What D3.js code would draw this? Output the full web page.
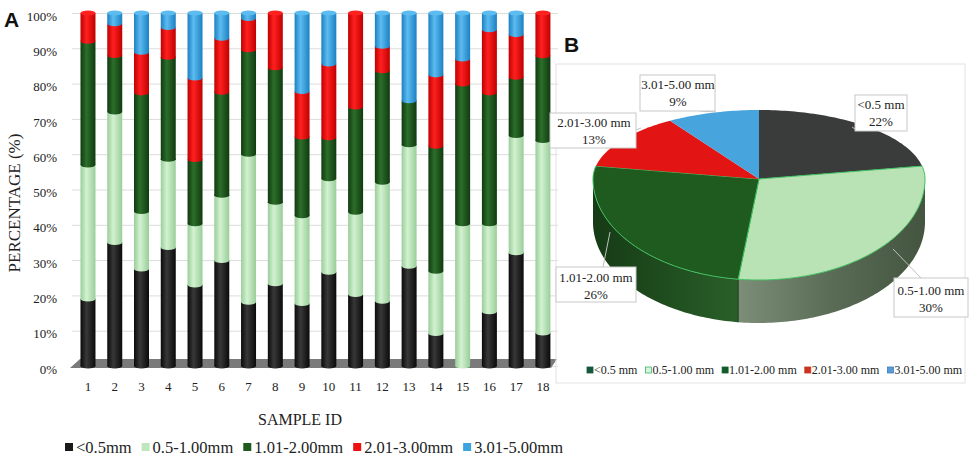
<!DOCTYPE html>
<html>
<head>
<meta charset="utf-8">
<script src="https://cdn.jsdelivr.net/npm/d3@7"></script>
<style>
  body { margin: 0; background: #fff; }
  svg { display: block; }
  text { font-family: "Liberation Serif", "DejaVu Serif", "Times New Roman", serif; fill: #222; }
  .panel-letter { font-family: "Liberation Sans", Arial, sans-serif; font-weight: bold; fill: #111; }
</style>
</head>
<body>
<svg id="chart" width="969" height="461" font-family="Liberation Serif, DejaVu Serif, serif"></svg>
<script>
// ---- data: panel A (percent per size class, sample 1..18) ----
const samples = ["1","2","3","4","5","6","7","8","9","10","11","12","13","14","15","16","17","18"];
const sizeKeys = ["<0.5mm", "0.5-1.00mm", "1.01-2.00mm", "2.01-3.00mm", "3.01-5.00mm"];
const under05   = [19, 35, 27.5, 33.6, 23, 29.9, 18.1, 23.3, 17.7, 26.6, 20.3, 18.4, 28.3, 9.2, 0, 15.4, 32.1, 9.4];
const from05    = [38, 37, 16.3, 25, 17.3, 18.5, 41.9, 23.1, 24.9, 26.5, 23.3, 33.7, 34.4, 17.7, 40.3, 24.9, 33.2, 54.5];
const from101   = [35, 16, 33.6, 28.9, 18.2, 29.2, 29.6, 38.1, 22.3, 11.6, 29.8, 31.6, 12.5, 35.4, 39.6, 37.1, 16.5, 24];
const from201   = [8, 9, 11.5, 8.4, 23.1, 15.3, 8.9, 15.5, 12.9, 20.9, 26.6, 6.9, 0, 20.2, 7.1, 17.9, 12.1, 12.1];
const from301   = [0, 3, 11.1, 4.1, 18.4, 7.1, 1.5, 0, 22.2, 14.4, 0, 9.4, 24.8, 17.5, 13, 4.7, 6.1, 0];
const yTicks = [0, 10, 20, 30, 40, 50, 60, 70, 80, 90, 100];

// ---- data: panel B (overall share) ----
const pieLabels = ["<0.5 mm", "0.5-1.00 mm", "1.01-2.00 mm", "2.01-3.00 mm", "3.01-5.00 mm"];
const pieValues = [22, 30, 26, 13, 9];

// ---- styles ----
const barColors = [
  { dark: "#0a0a0a", light: "#383838", key: "#1a1a1a" },
  { dark: "#9acd9a", light: "#d2f2d0", key: "#bfe6bd" },
  { dark: "#103a10", light: "#2c6e2a", key: "#1f5a1e" },
  { dark: "#c00000", light: "#ff2020", key: "#ee1111" },
  { dark: "#1c80c2", light: "#5cbcf0", key: "#3ba3e0" }
];
const pieTop  = ["#393c3a", "#b9e2b5", "#1f5a1e", "#e31414", "#48a4dc"];
const legendBColors = ["#15573c", "#d4f5dc", "#0e5c2a", "#c8341e", "#5b9bd5"];
const legendBStroke = ["#15573c", "#3cb371", "#0e5c2a", "#c8341e", "#3a7fc0"];
// label boxes for pie (centre x, first line y, box x, y, w, h)
const pieLabelBoxes = [
  { cx: 881, ty: 109, x: 855, y: 95,  w: 52, h: 36 },
  { cx: 931, ty: 295, x: 894, y: 278, w: 74, h: 39 },
  { cx: 596, ty: 282, x: 556, y: 267, w: 80, h: 35 },
  { cx: 594, ty: 127, x: 550, y: 113, w: 86, h: 35 },
  { cx: 678, ty: 89,  x: 640, y: 75,  w: 75, h: 36 }
];

const svg = d3.select("#chart");
const defs = svg.append("defs");

// =============== Panel A ===============
const plot = { left: 72, right: 558, top: 13, bottom: 366 };

const table = samples.map((s, i) => ({
  sample: s,
  [sizeKeys[0]]: under05[i],
  [sizeKeys[1]]: from05[i],
  [sizeKeys[2]]: from101[i],
  [sizeKeys[3]]: from201[i],
  [sizeKeys[4]]: from301[i]
}));
const series = d3.stack().keys(sizeKeys)(table);

const x = d3.scaleBand().domain(samples).range([74.6, 556.3]).paddingInner(0.44).paddingOuter(0.22);
const y = d3.scaleLinear().domain([0, 100]).range([plot.bottom, plot.top]);

// cylinder shading
barColors.forEach((c, i) => {
  const g = defs.append("linearGradient").attr("id", "bar" + i).attr("x1", 0).attr("x2", 1).attr("y1", 0).attr("y2", 0);
  g.append("stop").attr("offset", "0%").attr("stop-color", c.dark);
  g.append("stop").attr("offset", "40%").attr("stop-color", c.light);
  g.append("stop").attr("offset", "100%").attr("stop-color", c.dark);
});

// gridlines
const yAxis = d3.axisLeft(y).tickValues(yTicks).tickSize(-(plot.right - plot.left)).tickPadding(15)
  .tickFormat(d => d + "%");
svg.append("g")
  .attr("transform", `translate(${plot.left},0)`)
  .call(yAxis)
  .call(g => g.select(".domain").remove())
  .call(g => g.selectAll("line").attr("stroke", "#dcdcdc"))
  .call(g => g.selectAll("text").attr("font-size", 13).attr("dy", "0.55em")
    .attr("font-family", null).attr("fill", "#333"));

// floor
svg.append("path")
  .attr("d", d3.line()([[80, 359], [557, 359], [551, 368], [70, 368]]) + "Z")
  .attr("fill", "#7a7a7a");

const bw = x.bandwidth();
const layers = svg.append("g").selectAll("g")
  .data(series)
  .join("g")
  .attr("fill", (d, i) => `url(#bar${i})`);

layers.selectAll("rect")
  .data(d => d.filter(p => p[1] - p[0] > 0))
  .join("rect")
  .attr("x", d => x(d.data.sample))
  .attr("y", d => y(d[1]))
  .attr("width", bw)
  .attr("height", d => y(d[0]) - y(d[1]));

// curved lower edge of each segment
layers.selectAll("ellipse")
  .data(d => d.filter(p => p[1] - p[0] > 0))
  .join("ellipse")
  .attr("cx", d => x(d.data.sample) + bw / 2)
  .attr("cy", d => y(d[0]))
  .attr("rx", bw / 2)
  .attr("ry", 2.6);

// top caps
const topCaps = samples.map((s, i) => {
  let k = sizeKeys.length - 1;
  while (k > 0 && table[i][sizeKeys[k]] === 0) k--;
  return { sample: s, k };
});
svg.append("g").selectAll("ellipse")
  .data(topCaps)
  .join("ellipse")
  .attr("cx", d => x(d.sample) + bw / 2)
  .attr("cy", y(100))
  .attr("rx", bw / 2)
  .attr("ry", 2.6)
  .attr("fill", d => barColors[d.k].light);

// x axis labels
svg.append("g")
  .attr("transform", `translate(0,${plot.bottom})`)
  .call(d3.axisBottom(x).tickSize(0).tickPadding(16))
  .call(g => g.select(".domain").remove())
  .call(g => g.selectAll("text").attr("font-size", 13).attr("font-family", null).attr("fill", "#333"));

// axis titles
svg.append("text")
  .attr("transform", "translate(20,203) rotate(-90)")
  .attr("text-anchor", "middle")
  .attr("font-size", 17)
  .attr("fill", "#333")
  .text("PERCENTAGE (%)");

svg.append("text")
  .attr("x", 300).attr("y", 425)
  .attr("text-anchor", "middle")
  .attr("font-size", 16)
  .attr("fill", "#333")
  .text("SAMPLE ID");

// legend A
const legA = svg.append("g");
let lx = 65;
sizeKeys.forEach((k, i) => {
  legA.append("rect").attr("x", lx).attr("y", 443).attr("width", 8).attr("height", 8).attr("fill", barColors[i].key);
  const t = legA.append("text").attr("x", lx + 11).attr("y", 453).attr("font-size", 16.5).attr("fill", "#333").text(k);
  lx += 11 + t.node().getComputedTextLength() + 10;
});

svg.append("text").attr("class", "panel-letter").attr("x", 4).attr("y", 27).attr("font-size", 21).text("A");

// =============== Panel B ===============
svg.append("rect")
  .attr("x", 556).attr("y", 64).attr("width", 409).attr("height", 319)
  .attr("fill", "none").attr("stroke", "#e2e2e2");
svg.append("text").attr("class", "panel-letter").attr("x", 564).attr("y", 52).attr("font-size", 21).text("B");

const pc = { cx: 759, cy: 179, rx: 166, ryTop: 69, ryBot: 101, depth: 43 };
const piePt = (a, dy) => {
  const c = Math.cos(a);
  return [pc.cx + pc.rx * Math.sin(a), pc.cy - (c > 0 ? pc.ryTop : pc.ryBot) * c + dy];
};
const arcPts = (a0, a1, dy) => {
  const n = Math.max(2, Math.ceil((a1 - a0) / 0.02));
  return d3.range(n + 1).map(i => piePt(a0 + (a1 - a0) * i / n, dy));
};
const arcs = d3.pie().sort(null).value(d => d)(pieValues);

// side wall shading
const sideGrad = [
  null,
  ["#7c8e77", "#5a6c55", "#44553f"],
  ["#163b16", "#1f4d1f", "#2a5f29"],
  null, null
];
sideGrad.forEach((s, i) => {
  if (!s) return;
  const g = defs.append("linearGradient").attr("id", "side" + i).attr("x1", 0).attr("x2", 1);
  g.append("stop").attr("offset", "0%").attr("stop-color", s[0]);
  g.append("stop").attr("offset", "50%").attr("stop-color", s[1]);
  g.append("stop").attr("offset", "100%").attr("stop-color", s[2]);
});

const line = d3.line();
const pieG = svg.append("g");
arcs.forEach((a, i) => {
  const s = Math.max(a.startAngle, Math.PI / 2), e = Math.min(a.endAngle, 3 * Math.PI / 2);
  if (s >= e) return;
  const pts = arcPts(s, e, 0).concat(arcPts(s, e, pc.depth).reverse());
  pieG.append("path").attr("d", line(pts) + "Z")
    .attr("fill", sideGrad[i] ? `url(#side${i})` : pieTop[i]);
});
// boundary between side walls
pieG.append("path")
  .attr("d", line([piePt(arcs[1].endAngle, 0), piePt(arcs[1].endAngle, pc.depth)]))
  .attr("stroke", "#1c3d1c").attr("stroke-width", 1);

pieG.selectAll("path.slice")
  .data(arcs)
  .join("path")
  .attr("class", "slice")
  .attr("d", a => line([[pc.cx, pc.cy]].concat(arcPts(a.startAngle, a.endAngle, 0))) + "Z")
  .attr("fill", (a, i) => pieTop[i])
  .attr("stroke", (a, i) => (i === 1 || i === 2) ? "#3fbf5f" : "none")
  .attr("stroke-width", 1);

// leader lines
const leaders = [[[858, 131], [852, 127]], [[893, 249], [922, 279]], [[610, 232], [603, 267]], [[636, 130], [641, 128]], [[700, 111], [716, 112]]];
svg.append("g").selectAll("path")
  .data(leaders)
  .join("path")
  .attr("d", d => line(d))
  .attr("stroke", "#bfbfbf").attr("fill", "none");

// labels
const lab = svg.append("g").selectAll("g")
  .data(pieLabelBoxes)
  .join("g");
lab.append("rect")
  .attr("x", d => d.x).attr("y", d => d.y).attr("width", d => d.w).attr("height", d => d.h)
  .attr("fill", "#fff").attr("stroke", "#c8c8c8");
lab.append("text")
  .attr("x", d => d.cx).attr("y", d => d.ty)
  .attr("text-anchor", "middle").attr("font-size", 13)
  .text((d, i) => pieLabels[i]);
lab.append("text")
  .attr("x", d => d.cx).attr("y", d => d.ty + 17)
  .attr("text-anchor", "middle").attr("font-size", 13)
  .text((d, i) => pieValues[i] + "%");

// legend B
const legB = svg.append("g");
let bx = 587;
pieLabels.forEach((k, i) => {
  legB.append("rect").attr("x", bx).attr("y", 367).attr("width", 6).attr("height", 6)
    .attr("fill", legendBColors[i]).attr("stroke", legendBStroke[i]).attr("stroke-width", 0.8);
  const t = legB.append("text").attr("x", bx + 7).attr("y", 374).attr("font-size", 12).attr("fill", "#333").text(k);
  bx += 7 + t.node().getComputedTextLength() + 8;
});
</script>
</body>
</html>
